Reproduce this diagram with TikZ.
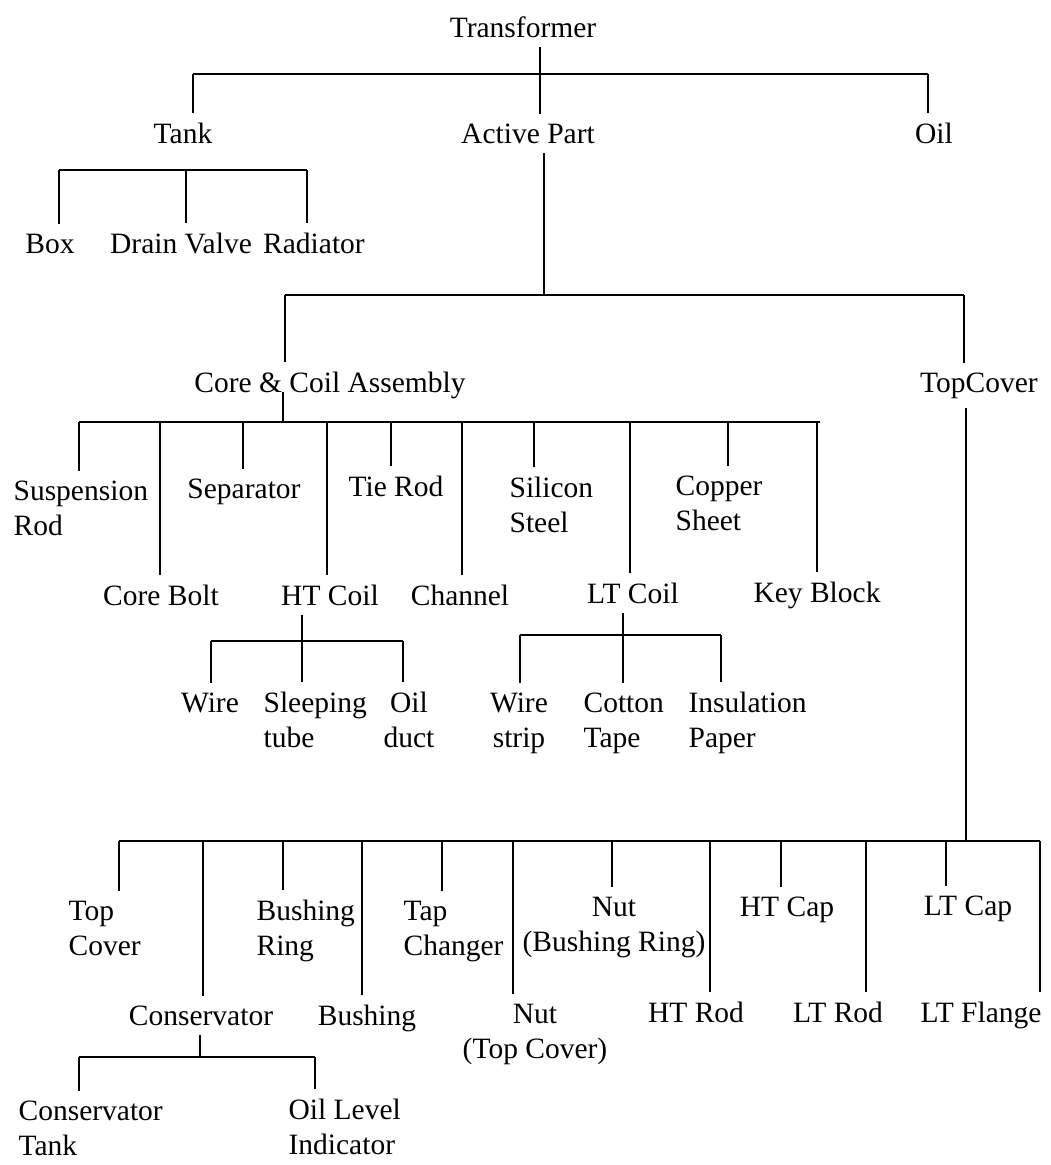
\documentclass[tikz,border=0pt]{standalone}
\usepackage{fontspec}
\setmainfont{Liberation Serif}
\usepackage{tikz}

\begin{document}
\begin{tikzpicture}[x=1pt, y=-1pt, line width=1.2pt,
    lbl/.style={font=\fontsize{29.5}{35}\selectfont, inner xsep=1pt, inner ysep=9pt, anchor=base},
    lblw/.style={lbl, anchor=base west, align=left},
    lblc/.style={lbl, align=center}]
    \useasboundingbox (0,0) rectangle (1050,1165);
    \node[lbl] (trans) at (523,37) {Transformer};
    \node[lbl] (tank) at (183,143) {Tank};
    \node[lbl] (active) at (528,143) {Active Part};
    \node[lbl] (oil) at (934,143) {Oil};
    \node[lbl] (box) at (50,253) {Box};
    \node[lbl] (drain) at (181,253) {Drain Valve};
    \node[lbl] (radiator) at (314,253) {Radiator};
    \node[lbl] (corecoil) at (330,392) {Core \& Coil Assembly};
    \node[lbl] (topcover) at (979,392) {TopCover};
    \node[lblw] (susp) at (12,535) {Suspension\\Rod};
    \node[lbl] (separator) at (244,498) {Separator};
    \node[lbl] (tierod) at (396,496) {Tie Rod};
    \node[lblw] (silicon) at (508,532) {Silicon\\Steel};
    \node[lblw] (copper) at (674,530) {Copper\\Sheet};
    \node[lbl] (corebolt) at (161,605) {Core Bolt};
    \node[lbl] (htcoil) at (330,605) {HT Coil};
    \node[lbl] (channel) at (460,605) {Channel};
    \node[lbl] (ltcoil) at (633,603) {LT Coil};
    \node[lbl] (keyblock) at (817,602) {Key Block};
    \node[lbl] (wire) at (210,712) {Wire};
    \node[lblw] (sleeping) at (262,747) {Sleeping\\tube};
    \node[lblc] (oilduct) at (409,747) {Oil\\duct};
    \node[lblc] (wirestrip) at (519,747) {Wire\\strip};
    \node[lblw] (cotton) at (582,747) {Cotton\\Tape};
    \node[lblw] (insulation) at (687,747) {Insulation\\Paper};
    \node[lblw] (topcov) at (67,955) {Top\\Cover};
    \node[lblw] (bushring) at (255,955) {Bushing\\Ring};
    \node[lblw] (tapchanger) at (402,955) {Tap\\Changer};
    \node[lblc] (nutbush) at (614,951) {Nut\\(Bushing Ring)};
    \node[lbl] (htcap) at (787,916) {HT Cap};
    \node[lbl] (ltcap) at (968,915) {LT Cap};
    \node[lbl] (conservator) at (201,1025) {Conservator};
    \node[lbl] (bushing) at (367,1025) {Bushing};
    \node[lblc] (nuttop) at (535,1058) {Nut\\(Top Cover)};
    \node[lbl] (htrod) at (696,1022) {HT Rod};
    \node[lbl] (ltrod) at (838,1022) {LT Rod};
    \node[lbl] (ltflange) at (981,1022) {LT Flange};
    \node[lblw] (constank) at (17,1155) {Conservator\\Tank};
    \node[lblw] (oillevel) at (287,1154) {Oil Level\\Indicator};

    \draw (540,0 |- trans.south) -- (540,74);
    \draw (193,74) -- (928,74);
    \draw (193,74) -- (193,0 |- tank.north);
    \draw (540,74) -- (540,0 |- active.north);
    \draw (928,74) -- (928,0 |- oil.north);

    \draw (59,170) -- (307,170);
    \draw (59,170) -- (59,0 |- box.north);
    \draw (186,170) -- (186,0 |- drain.north);
    \draw (307,170) -- (307,0 |- radiator.north);

    \draw (544,0 |- active.south) -- (544,295);
    \draw (285,295) -- (964,295);
    \draw (285,295) -- (285,0 |- corecoil.north);
    \draw (964,295) -- (964,0 |- topcover.north);

    \draw (corecoil.base -| 283,0) -- (283,422);
    \draw (79,422) -- (820,422);
    \draw (79,422) -- (79,0 |- susp.north);
    \draw (160,422) -- (160,0 |- corebolt.north);
    \draw (243,422) -- (243,0 |- separator.north);
    \draw (327,422) -- (327,0 |- htcoil.north);
    \draw (391,422) -- (391,0 |- tierod.north);
    \draw (462,422) -- (462,0 |- channel.north);
    \draw (534,422) -- (534,0 |- silicon.north);
    \draw (630,422) -- (630,0 |- ltcoil.north);
    \draw (728,422) -- (728,0 |- copper.north);
    \draw (817,422) -- (817,0 |- keyblock.north);

    \draw (302,0 |- htcoil.south) -- (302,641);
    \draw (211,641) -- (403,641);
    \draw (211,641) -- (211,0 |- wire.north);
    \draw (302,641) -- (302,0 |- sleeping.north);
    \draw (403,641) -- (403,0 |- oilduct.north);

    \draw (623,0 |- ltcoil.south) -- (623,635);
    \draw (520,635) -- (721,635);
    \draw (520,635) -- (520,0 |- wirestrip.north);
    \draw (623,635) -- (623,0 |- cotton.north);
    \draw (721,635) -- (721,0 |- insulation.north);

    \draw (966,0 |- topcover.south) -- (966,841);
    \draw (119,841) -- (1040,841);
    \draw (119,841) -- (119,0 |- topcov.north);
    \draw (203,841) -- (203,0 |- conservator.north);
    \draw (283,841) -- (283,0 |- bushring.north);
    \draw (362,841) -- (362,0 |- bushing.north);
    \draw (442,841) -- (442,0 |- tapchanger.north);
    \draw (513,841) -- (513,0 |- nuttop.north);
    \draw (612,841) -- (612,0 |- nutbush.north);
    \draw (710,841) -- (710,0 |- htrod.north);
    \draw (781,841) -- (781,0 |- htcap.north);
    \draw (866,841) -- (866,0 |- ltrod.north);
    \draw (946,841) -- (946,0 |- ltcap.north);
    \draw (1040,841) -- (1040,0 |- ltflange.north);

    \draw (200,0 |- conservator.south) -- (200,1057);
    \draw (79,1057) -- (315,1057);
    \draw (79,1057) -- (79,0 |- constank.north);
    \draw (315,1057) -- (315,0 |- oillevel.north);
\end{tikzpicture}
\end{document}
